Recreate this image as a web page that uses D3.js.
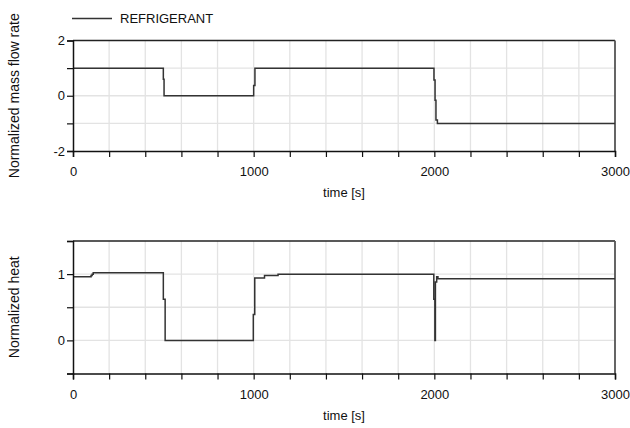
<!DOCTYPE html>
<html>
<head>
<meta charset="utf-8">
<script src="https://cdn.jsdelivr.net/npm/d3@7"></script>
<style>
  html, body { margin: 0; padding: 0; background: #fff; }
  svg { display: block; font-family: "Liberation Sans", Arial, sans-serif; }
</style>
</head>
<body>
<svg id="chart" width="630" height="428"></svg>
<script>
// ---- data ----
const seriesName = "REFRIGERANT";
const xTicksMajor = [0, 1000, 2000, 3000];
const topYTicks = [-2, 0, 2];
const bottomYTicks = [0, 1];

// Normalized mass flow rate (step after)
const flowTime  = [0, 500, 504, 1000, 1007, 1998, 2004, 2009, 2017, 3000];
const flowValue = [1, 0.6, 0, 0.37, 1, 0.57, -0.16, -0.88, -1.0, -1.0];

// Normalized heat (step after)
const heatTime  = [0, 100, 106, 112, 500, 510, 998, 1006, 1060, 1135, 1997, 2003, 2006, 2013, 2020, 3000];
const heatValue = [0.96, 0.98, 1.0, 1.02, 0.62, 0, 0.39, 0.94, 0.98, 1.0, 0.62, 0, 0.88, 0.96, 0.93, 0.93];

// ---- layout ----
const svg = d3.select("#chart");
const x = d3.scaleLinear().domain([0, 3000]).range([73, 615]);

const panels = [
  { y: d3.scaleLinear().domain([-2, 2]).range([151, 40.5]), gridStep: 1, labels: topYTicks,
    title: "Normalized mass flow rate", t: flowTime, v: flowValue },
  { y: d3.scaleLinear().domain([-0.5, 1.5]).range([373.5, 241]), gridStep: 0.5, labels: bottomYTicks,
    title: "Normalized heat", t: heatTime, v: heatValue }
];

const fs = 13;
const minorX = d3.range(0, 3001, 200);

panels.forEach(p => {
  const [y0, y1] = p.y.domain();
  const yGrid = d3.range(y0, y1 + 1e-9, p.gridStep);
  const g = svg.append("g");
  const top = p.y(y1), bot = p.y(y0);
  const left = x(0), right = x(3000);

  // grid
  g.selectAll(".vg").data(minorX.slice(1, -1)).join("line")
    .attr("x1", d => x(d)).attr("x2", d => x(d))
    .attr("y1", top).attr("y2", bot)
    .attr("stroke", "#e3e3e3").attr("stroke-width", 1.3);
  g.selectAll(".hg").data(yGrid.slice(1, -1)).join("line")
    .attr("x1", left).attr("x2", right)
    .attr("y1", d => p.y(d)).attr("y2", d => p.y(d))
    .attr("stroke", "#e3e3e3").attr("stroke-width", 1.3);

  // frame top and right
  g.append("line").attr("x1", left).attr("x2", right).attr("y1", top).attr("y2", top)
    .attr("stroke", "#222").attr("stroke-width", 1.3);
  g.append("line").attr("x1", right).attr("x2", right).attr("y1", top).attr("y2", bot)
    .attr("stroke", "#555").attr("stroke-width", 1.8);

  // data line
  const pts = p.t.map((t, i) => [t, p.v[i]]);
  const line = d3.line().x(d => x(d[0])).y(d => p.y(d[1])).curve(d3.curveStepAfter);
  g.append("path").datum(pts).attr("d", line)
    .attr("fill", "none").attr("stroke", "#333").attr("stroke-width", 1.5);

  // x axis
  const xAxis = d3.axisBottom(x).tickValues(minorX).tickSize(6)
    .tickFormat(d => xTicksMajor.includes(d) ? d : "");
  const xa = g.append("g").attr("transform", `translate(0,${bot})`).call(xAxis);
  xa.select(".domain").attr("stroke", "#111").attr("stroke-width", 1.5);
  xa.selectAll(".tick line").attr("stroke", "#111").attr("stroke-width", 1.2);
  xa.selectAll(".tick text").attr("font-size", fs).attr("fill", "#111")
    .attr("font-family", "Liberation Sans, Arial, sans-serif").attr("dy", "1.25em");

  // y axis
  const yAxis = d3.axisLeft(p.y).tickValues(yGrid).tickSize(6)
    .tickFormat(d => p.labels.includes(d) ? d : "");
  const ya = g.append("g").attr("transform", `translate(${left},0)`).call(yAxis);
  ya.select(".domain").attr("stroke", "#111").attr("stroke-width", 1.5);
  ya.selectAll(".tick line").attr("stroke", "#111").attr("stroke-width", 1.2);
  ya.selectAll(".tick text").attr("font-size", fs).attr("fill", "#111")
    .attr("font-family", "Liberation Sans, Arial, sans-serif").attr("x", -8);

  // x label
  g.append("text").attr("x", (left + right) / 2).attr("y", bot + 46)
    .attr("text-anchor", "middle").attr("font-size", fs).attr("fill", "#111")
    .text("time [s]");

  // y label
  g.append("text")
    .attr("transform", `translate(19,${(top + bot) / 2}) rotate(-90)`)
    .attr("text-anchor", "middle").attr("font-size", 14).attr("fill", "#111")
    .text(p.title);
});

// legend
svg.append("line").attr("x1", 72).attr("x2", 112).attr("y1", 18.5).attr("y2", 18.5)
  .attr("stroke", "#333").attr("stroke-width", 1.5);
svg.append("text").attr("x", 120).attr("y", 23).attr("font-size", fs).attr("fill", "#111")
  .text(seriesName);
</script>
</body>
</html>
